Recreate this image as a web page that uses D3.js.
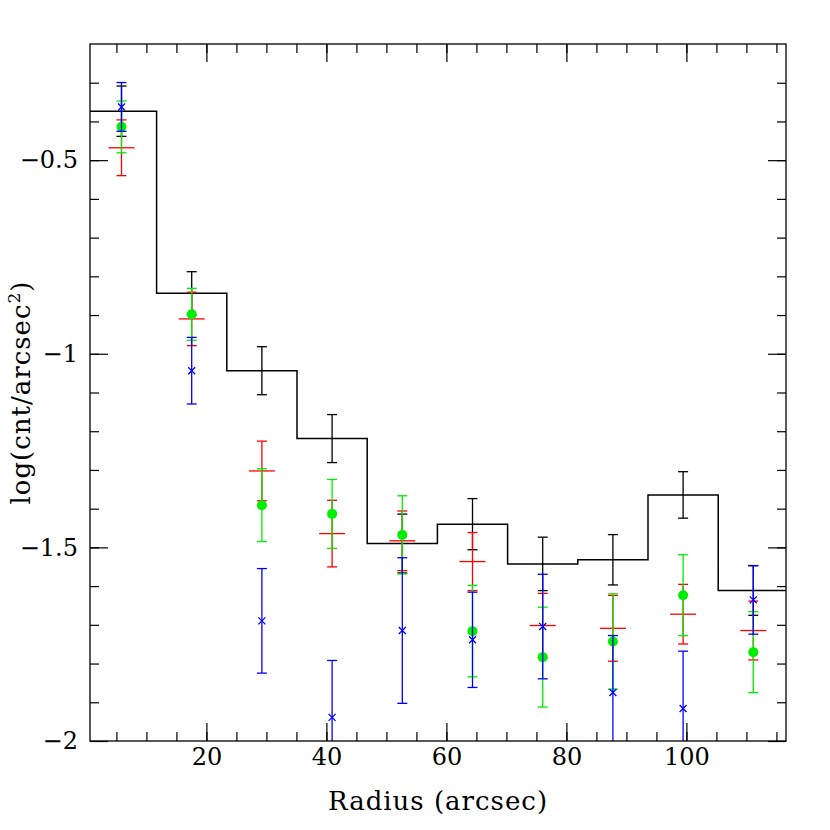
<!DOCTYPE html>
<meta charset="utf-8">
<style>
body { margin: 0; background: #fff; }
text { font-family: "DejaVu Serif", serif; fill: #000; }
.frame { fill: none; stroke: #000; stroke-width: 1.3px; }
.hist { fill: none; stroke: #000; stroke-width: 1.5px; }
</style>
<body>
<script src="https://d3js.org/d3.v7.min.js"></script>
<script>

// radial bins (arcsec) - bin centres and edges
var radius = [5.85, 17.55, 29.25, 40.95, 52.65, 64.35, 76.05, 87.75, 99.45, 111.15];
var binLeft = [0, 11.7, 23.4, 35.1, 46.8, 58.5, 70.2, 81.9, 93.6, 105.3];
var binEnd = 117;

// black histogram profile
var black = [-0.3735, -0.844, -1.0437, -1.219, -1.490, -1.440, -1.5426, -1.532, -1.3645, -1.6114];
var blackErr = [0.065, 0.056, 0.062, 0.062, 0.076, 0.066, 0.069, 0.065, 0.06, 0.064];

// red profile
var red = [-0.468, -0.910, -1.3026, -1.4644, -1.483, -1.5366, -1.7018, -1.709, -1.6725, -1.7147];
var redErr = [0.072, 0.069, 0.077, 0.086, 0.077, 0.075, 0.083, 0.085, 0.077, 0.076];

// green profile
var green = [-0.414, -0.898, -1.391, -1.4135, -1.4677, -1.7163, -1.7834, -1.743, -1.6234, -1.7705];
var greenErr = [0.067, 0.067, 0.094, 0.089, 0.101, 0.118, 0.129, 0.123, 0.1045, 0.1045];

// blue profile
var blue = [-0.3625, -1.0437, -1.6897, -1.939, -1.7147, -1.7387, -1.7044, -1.8747, -1.916, -1.6355];
var blueErr = [0.063, 0.086, 0.135, 0.147, 0.188, 0.123, 0.135, 0.147, 0.148, 0.0886];

// tick values
var xMajor = [20, 40, 60, 80, 100];
var xMinor = d3.range(5, 117, 5);
var yMajor = [-2, -1.5, -1, -0.5];
var yMinor = d3.range(-1.9, -0.2, 0.1);

var margin = {top: 44, right: 44, bottom: 89, left: 90},
    width = 830 - margin.left - margin.right,
    height = 830 - margin.top - margin.bottom;

var svg = d3.select("body").append("svg")
    .attr("width", 830)
    .attr("height", 830)
  .append("g")
    .attr("transform", "translate(" + margin.left + "," + margin.top + ")");

var x = d3.scaleLinear().domain([0.6, 116.6]).range([0, width]);
var y = d3.scaleLinear().domain([-2, -0.2]).range([height, 0]);

svg.append("clipPath").attr("id", "clip")
  .append("rect").attr("width", width).attr("height", height);

var plot = svg.append("g").attr("clip-path", "url(#clip)");

// histogram
var histPts = binLeft.map(function(b, i) { return [b, black[i]]; });
histPts.push([binEnd, black[black.length - 1]]);
plot.append("path")
    .datum(histPts)
    .attr("class", "hist")
    .attr("d", d3.line()
      .x(function(d) { return x(d[0]); })
      .y(function(d) { return y(d[1]); })
      .curve(d3.curveStepAfter));

function errorBars(vals, errs, color) {
  var g = plot.append("g").attr("stroke", color).attr("stroke-width", 1.3);
  vals.forEach(function(v, i) {
    var cx = x(radius[i]);
    g.append("line").attr("x1", cx).attr("x2", cx)
      .attr("y1", y(v - errs[i])).attr("y2", y(v + errs[i]));
    [v - errs[i], v + errs[i]].forEach(function(e) {
      g.append("line").attr("x1", cx - 5).attr("x2", cx + 5)
        .attr("y1", y(e)).attr("y2", y(e));
    });
  });
  return g;
}

errorBars(black, blackErr, "#000");

// red: horizontal dash marker
var gr = errorBars(red, redErr, "#ff0000");
red.forEach(function(v, i) {
  gr.append("line").attr("x1", x(radius[i]) - 13).attr("x2", x(radius[i]) + 13)
    .attr("y1", y(v)).attr("y2", y(v));
});

// green: filled circles
var gg = errorBars(green, greenErr, "#00ee00");
gg.selectAll("circle").data(green).enter().append("circle")
    .attr("cx", function(d, i) { return x(radius[i]); })
    .attr("cy", function(d) { return y(d); })
    .attr("r", 5)
    .attr("fill", "#00ee00")
    .attr("stroke", "none");

// blue: x crosses
var gb = errorBars(blue, blueErr, "#0000ff");
blue.forEach(function(v, i) {
  var cx = x(radius[i]), cy = y(v), s = 3.5;
  gb.append("path").attr("d", "M" + (cx - s) + "," + (cy - s) + "L" + (cx + s) + "," + (cy + s) +
    "M" + (cx - s) + "," + (cy + s) + "L" + (cx + s) + "," + (cy - s));
});

// frame
svg.append("rect").attr("class", "frame").attr("width", width).attr("height", height);

function noLabel() { return ""; }

// ticks on all four sides
svg.append("g").attr("transform", "translate(0," + height + ")")
    .call(d3.axisBottom(x).tickValues(xMinor).tickSize(-9).tickFormat(noLabel));
svg.append("g").attr("transform", "translate(0," + height + ")")
    .call(d3.axisBottom(x).tickValues(xMajor).tickSize(-18).tickPadding(7));
svg.append("g")
    .call(d3.axisTop(x).tickValues(xMinor).tickSize(-9).tickFormat(noLabel));
svg.append("g")
    .call(d3.axisTop(x).tickValues(xMajor).tickSize(-18).tickFormat(noLabel));
svg.append("g")
    .call(d3.axisLeft(y).tickValues(yMinor).tickSize(-9).tickFormat(noLabel));
svg.append("g")
    .call(d3.axisLeft(y).tickValues(yMajor).tickSize(-18).tickPadding(12)
      .tickFormat(function(d) { return d3.format("")(d).replace("-", "\u2212"); }));
svg.append("g").attr("transform", "translate(" + width + ",0)")
    .call(d3.axisRight(y).tickValues(yMinor).tickSize(-9).tickFormat(noLabel));
svg.append("g").attr("transform", "translate(" + width + ",0)")
    .call(d3.axisRight(y).tickValues(yMajor).tickSize(-18).tickFormat(noLabel));

svg.selectAll(".domain").remove();
svg.selectAll(".tick line").attr("stroke", "#000").attr("stroke-width", 1.2);
svg.selectAll(".tick text")
    .style("font-family", "'DejaVu Serif', serif")
    .style("font-size", "24px");

// axis titles
svg.append("text")
    .attr("x", width / 2)
    .attr("y", height + 69)
    .attr("text-anchor", "middle")
    .style("font-size", "26px")
    .style("letter-spacing", "1px")
    .text("Radius (arcsec)");

var yl = svg.append("text")
    .attr("transform", "translate(" + (-60) + "," + (height / 2) + ") rotate(-90)")
    .attr("text-anchor", "middle")
    .style("font-size", "26px")
    .style("letter-spacing", "1px");
yl.append("tspan").text("log(cnt/arcsec");
yl.append("tspan").attr("dy", -10).style("font-size", "17px").text("2");
yl.append("tspan").attr("dy", 10).text(")");

</script>
</body>
